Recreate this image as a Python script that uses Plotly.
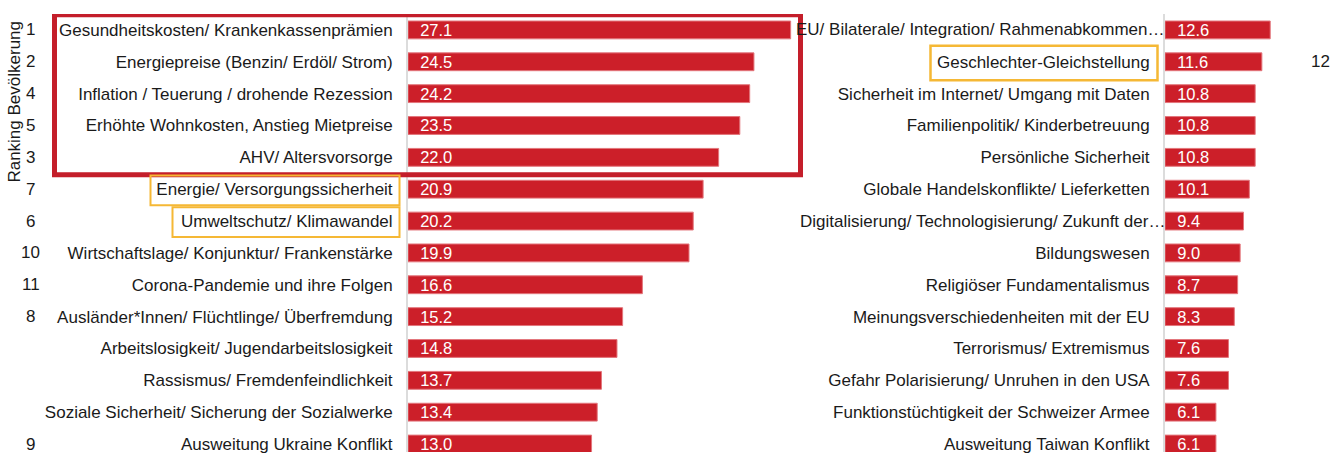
import plotly.graph_objects as go

# ---------------- data ----------------
left_labels = [
    "Gesundheitskosten/ Krankenkassenprämien",
    "Energiepreise (Benzin/ Erdöl/ Strom)",
    "Inflation / Teuerung / drohende Rezession",
    "Erhöhte Wohnkosten, Anstieg Mietpreise",
    "AHV/ Altersvorsorge",
    "Energie/ Versorgungssicherheit",
    "Umweltschutz/ Klimawandel",
    "Wirtschaftslage/ Konjunktur/ Frankenstärke",
    "Corona-Pandemie und ihre Folgen",
    "Ausländer*Innen/ Flüchtlinge/ Überfremdung",
    "Arbeitslosigkeit/ Jugendarbeitslosigkeit",
    "Rassismus/ Fremdenfeindlichkeit",
    "Soziale Sicherheit/ Sicherung der Sozialwerke",
    "Ausweitung Ukraine Konflikt",
]
left_values = [27.1, 24.5, 24.2, 23.5, 22.0, 20.9, 20.2, 19.9, 16.6, 15.2, 14.8, 13.7, 13.4, 13.0]
left_ranks = ["1", "2", "4", "5", "3", "7", "6", "10", "11", "8", "", "", "", "9"]

right_labels = [
    "EU/ Bilaterale/ Integration/ Rahmenabkommen…",
    "Geschlechter-Gleichstellung",
    "Sicherheit im Internet/ Umgang mit Daten",
    "Familienpolitik/ Kinderbetreuung",
    "Persönliche Sicherheit",
    "Globale Handelskonflikte/ Lieferketten",
    "Digitalisierung/ Technologisierung/ Zukunft der…",
    "Bildungswesen",
    "Religiöser Fundamentalismus",
    "Meinungsverschiedenheiten mit der EU",
    "Terrorismus/ Extremismus",
    "Gefahr Polarisierung/ Unruhen in den USA",
    "Funktionstüchtigkeit der Schweizer Armee",
    "Ausweitung Taiwan Konflikt",
]
right_values = [12.6, 11.6, 10.8, 10.8, 10.8, 10.1, 9.4, 9.0, 8.7, 8.3, 7.6, 7.6, 6.1, 6.1]
right_ranks = ["", "12", "", "", "", "", "", "", "", "", "", "", "", ""]

# ---------------- layout constants ----------------
W, H = 1331, 454
BAR = "#cc1f29"
FONT = "Liberation Sans, Arial, Helvetica, sans-serif"
TXT = "#1a1a1a"
FS = 17

def px(x):
    return x / W

left_x0, left_scale, left_max = 408, 14.12, 30
right_x0, right_scale, right_max = 1165, 8.35, 16

fig = go.Figure()

for xs, ys, xa, ya in [(left_values, left_labels, "x", "y"),
                       (right_values, right_labels, "x2", "y2")]:
    fig.add_trace(go.Bar(
        x=xs, y=ys, orientation="h",
        marker=dict(color=BAR, line=dict(color="#e3767c", width=1)),
        texttemplate="\u00a0\u00a0%{x:.1f}", textposition="inside",
        insidetextanchor="start", constraintext="none", textangle=0,
        insidetextfont=dict(color="white", size=16.5, family=FONT),
        xaxis=xa, yaxis=ya, showlegend=False, hoverinfo="x+y",
    ))

n = len(left_labels)
yrange = [n - 0.75, -0.5]

axis_common_x = dict(showgrid=False, zeroline=False, showticklabels=False,
                     ticks="", fixedrange=True)
axis_common_y = dict(type="category", range=yrange, showgrid=False,
                     zeroline=False, ticks="", showline=True,
                     linecolor="#dcdcdc", linewidth=2,
                     ticklabelstandoff=10,
                     tickfont=dict(size=FS, family=FONT, color=TXT))

# truncated labels (ending with an ellipsis) overhang the normal label edge
right_ticktext = ["" if lab.endswith("…") else lab for lab in right_labels]

fig.update_layout(
    width=W, height=H,
    margin=dict(l=0, r=0, t=14, b=0),
    paper_bgcolor="white", plot_bgcolor="white",
    bargap=0.44,
    font=dict(family=FONT, color=TXT, size=FS),
    xaxis=dict(domain=[px(left_x0), px(left_x0 + left_scale * left_max)],
               range=[0, left_max], anchor="y", **axis_common_x),
    yaxis=dict(domain=[0, 1], anchor="x", categoryorder="array",
               categoryarray=left_labels, **axis_common_y),
    xaxis2=dict(domain=[px(right_x0), px(right_x0 + right_scale * right_max)],
                range=[0, right_max], anchor="y2", **axis_common_x),
    yaxis2=dict(domain=[0, 1], anchor="x2", categoryorder="array",
                categoryarray=right_labels, tickmode="array",
                tickvals=right_labels, ticktext=right_ticktext, **axis_common_y),
)

annotations = []
for i, r in enumerate(left_ranks):
    if r:
        annotations.append(dict(text=r, x=px(31), xref="paper", y=i, yref="y",
                                xanchor="center", yanchor="middle", showarrow=False,
                                font=dict(size=FS, family=FONT, color=TXT)))
for i, r in enumerate(right_ranks):
    if r:
        annotations.append(dict(text=r, x=px(1320), xref="paper", y=i, yref="y2",
                                xanchor="center", yanchor="middle", showarrow=False,
                                font=dict(size=FS, family=FONT, color=TXT)))
for i, lab in enumerate(right_labels):
    if lab.endswith("…"):
        annotations.append(dict(text=lab, x=px(1165), xref="paper", y=i, yref="y2",
                                xanchor="right", yanchor="middle", showarrow=False,
                                xshift=2, font=dict(size=FS, family=FONT, color=TXT)))
annotations.append(dict(text="Ranking Bevölkerung", textangle=-90,
                        x=px(15), xref="paper", y=(454 - 102) / 440, yref="paper",
                        xanchor="center", yanchor="middle", showarrow=False,
                        font=dict(size=FS, family=FONT, color=TXT)))
fig.update_layout(annotations=annotations)

shapes = [
    dict(type="rect", xref="paper", yref="y", x0=px(54.5), x1=px(800.5),
         y0=-0.48, y1=4.55, line=dict(color="#c41e2a", width=5),
         fillcolor="rgba(0,0,0,0)", layer="above"),
    dict(type="rect", xref="paper", yref="y", x0=px(150.5), x1=px(399.5),
         y0=4.57, y1=5.5, line=dict(color="#f5b835", width=2),
         fillcolor="rgba(0,0,0,0)", layer="above"),
    dict(type="rect", xref="paper", yref="y", x0=px(172.5), x1=px(399.5),
         y0=5.57, y1=6.5, line=dict(color="#f5b835", width=2),
         fillcolor="rgba(0,0,0,0)", layer="above"),
    dict(type="rect", xref="paper", yref="y2", x0=px(930.5), x1=px(1157.5),
         y0=0.5, y1=1.58, line=dict(color="#f5b835", width=2.5),
         fillcolor="rgba(0,0,0,0)", layer="above"),
]
fig.update_layout(shapes=shapes)

fig.write_html("out.html", config={"displayModeBar": False})
